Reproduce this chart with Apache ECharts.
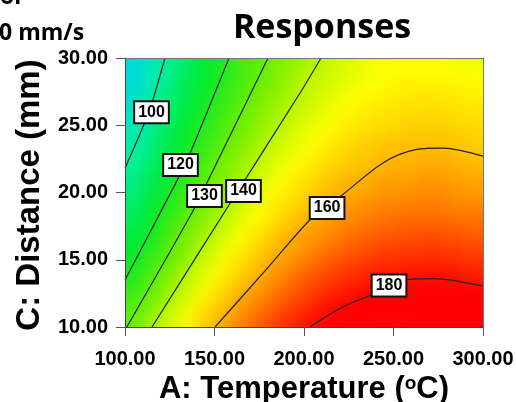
<!DOCTYPE html>
<html>
<head>
<meta charset="utf-8">
<script src="https://cdn.jsdelivr.net/npm/echarts@6/dist/echarts.min.js"></script>
<style>
  html, body { margin: 0; padding: 0; background: #fff; }
  #chart { width: 516px; height: 402px; }
</style>
</head>
<body>
<div id="chart"></div>
<script>
// cell centres of the colour field (temperature, distance)
const tempCenters = [105, 115, 125, 135, 145, 155, 165, 175, 185, 195, 205, 215, 225, 235, 245, 255, 265, 275, 285, 295];
const distCenters = [10.5, 11.5, 12.5, 13.5, 14.5, 15.5, 16.5, 17.5, 18.5, 19.5, 20.5, 21.5, 22.5, 23.5, 24.5, 25.5, 26.5, 27.5, 28.5, 29.5];

// response, one row per distance (bottom row first)
const response = [
  [130, 137, 143, 149, 155, 160, 165, 169, 173, 176, 179, 182, 184, 185, 187, 188, 188, 188, 187, 186],
  [127, 134, 140, 146, 152, 157, 162, 166, 170, 173, 176, 179, 181, 183, 184, 185, 185, 185, 184, 183],
  [124, 131, 137, 143, 149, 154, 159, 163, 167, 170, 173, 176, 178, 180, 181, 182, 182, 182, 182, 181],
  [121, 128, 135, 141, 146, 151, 156, 160, 164, 168, 171, 173, 175, 177, 178, 179, 179, 179, 179, 178],
  [119, 126, 132, 138, 144, 149, 153, 158, 162, 165, 168, 171, 173, 174, 176, 176, 177, 177, 176, 175],
  [116, 123, 129, 135, 141, 146, 151, 155, 159, 162, 165, 168, 170, 172, 173, 174, 174, 174, 174, 173],
  [114, 120, 127, 133, 139, 144, 148, 153, 157, 160, 163, 165, 168, 169, 171, 171, 172, 172, 171, 170],
  [111, 118, 125, 131, 136, 141, 146, 150, 154, 158, 161, 163, 165, 167, 168, 169, 169, 169, 169, 168],
  [109, 116, 122, 128, 134, 139, 144, 148, 152, 155, 158, 161, 163, 165, 166, 167, 167, 167, 166, 166],
  [107, 114, 120, 126, 132, 137, 142, 146, 150, 153, 156, 159, 161, 162, 164, 164, 165, 165, 164, 163],
  [105, 112, 118, 124, 130, 135, 139, 144, 148, 151, 154, 157, 159, 160, 162, 162, 163, 163, 162, 161],
  [103, 110, 116, 122, 128, 133, 137, 142, 146, 149, 152, 155, 157, 158, 160, 160, 161, 161, 160, 159],
  [101, 108, 114, 120, 126, 131, 136, 140, 144, 147, 150, 153, 155, 156, 158, 158, 159, 159, 158, 157],
  [99, 106, 112, 118, 124, 129, 134, 138, 142, 145, 148, 151, 153, 155, 156, 157, 157, 157, 156, 155],
  [97, 104, 111, 117, 122, 127, 132, 136, 140, 144, 147, 149, 151, 153, 154, 155, 155, 155, 155, 154],
  [96, 102, 109, 115, 120, 126, 130, 135, 138, 142, 145, 147, 150, 151, 152, 153, 154, 154, 153, 152],
  [94, 101, 107, 113, 119, 124, 129, 133, 137, 140, 143, 146, 148, 150, 151, 152, 152, 152, 152, 151],
  [92, 99, 106, 112, 117, 123, 127, 132, 135, 139, 142, 144, 147, 148, 149, 150, 151, 151, 150, 149],
  [91, 98, 104, 111, 116, 121, 126, 130, 134, 138, 141, 143, 145, 147, 148, 149, 149, 149, 149, 148],
  [90, 97, 103, 109, 115, 120, 125, 129, 133, 136, 139, 142, 144, 146, 147, 148, 148, 148, 147, 146],
];

// contour lines, [temperature, distance] points
const contour100 = [[122.3, 30], [115.6, 26.9], [110.1, 24.9], [100, 21.8]];
const contour120 = [[158.1, 30], [136.3, 22.9], [129.1, 20.9], [100, 13.5]];
const contour130 = [[179.9, 30], [146.4, 20.9], [137.4, 18.5], [101, 10]];
const contour140 = [[209.5, 30], [197.8, 27.4], [158.7, 19.2], [115.1, 10]];
const contour160 = [[150.3, 10], [177.1, 14.0], [205.0, 18.2], [221.2, 19.8], [244.1, 22.2], [263.1, 23.2], [277.7, 23.3], [300, 22.7]];
const contour180 = [[203.4, 10], [221.8, 11.5], [238, 12.4], [256.4, 13.5], [272.1, 13.6], [300, 13.05]];

const labelText = ['100', '120', '130', '140', '160', '180'];
const labelTemp = [114.8, 131.0, 144.4, 166.2, 212.9, 247.5];
const labelDist = [25.96, 22.04, 19.74, 20.11, 18.85, 13.09];

const xTicks = [100, 150, 200, 250, 300];
const yTicks = [10, 15, 20, 25, 30];

// colour field: the cells plus a ring of repeated edge cells, so the softening blur does not fade at the frame
const ring = 2;
const nx = tempCenters.length;
const ny = distCenters.length;
const clampI = (k, n) => Math.min(n - 1, Math.max(0, k));
const cells = [];
for (let j = -ring; j < ny + ring; j += 1) {
  for (let i = -ring; i < nx + ring; i += 1) {
    cells.push([i + ring, j + ring, response[clampI(j, ny)][clampI(i, nx)]]);
  }
}
const padX = Array.from({ length: nx + 2 * ring }, (_, k) => String(k));
const padY = Array.from({ length: ny + 2 * ring }, (_, k) => String(k));

const fontAx = '"Liberation Sans", Arial, sans-serif';
const W = 516;
const H = 402;
const gridPos = { left: 125, top: 58, width: 358, height: 269, outerBoundsMode: 'none', containLabel: false };
const cw = gridPos.width / nx;
const ch = gridPos.height / ny;
const gridPad = {
  left: gridPos.left - ring * cw,
  top: gridPos.top - ring * ch,
  width: gridPos.width + 2 * ring * cw,
  height: gridPos.height + 2 * ring * ch,
  outerBoundsMode: 'none',
  containLabel: false,
};

const contourSeries = [contour100, contour120, contour130, contour140, contour160, contour180].map((d) => ({
  type: 'line',
  xAxisIndex: 0,
  yAxisIndex: 0,
  data: d,
  smooth: 0.3,
  symbol: 'none',
  silent: true,
  zlevel: 2,
  z: 3,
  lineStyle: { color: '#222', width: 1.2 },
}));

const el = document.getElementById('chart');
const myechart = echarts.init(el);
const option = {
  animation: false,
  graphic: [
    { type: 'text', zlevel: 2, x: 322, y: 28, style: { text: 'Responses', font: 'bold 34px "Open Sans"', fill: '#000', align: 'center', verticalAlign: 'middle' } },
    { type: 'text', zlevel: 2, x: -1, y: 33, style: { text: '0 mm/s', font: 'bold 23px "Open Sans"', fill: '#000', align: 'left', verticalAlign: 'middle' } },
    { type: 'text', zlevel: 2, x: 0, y: -3, style: { text: 'or', font: 'bold 23px "Open Sans"', fill: '#000', align: 'left', verticalAlign: 'middle' } },
    {
      type: 'text',
      zlevel: 2,
      x: 30,
      y: 195,
      rotation: Math.PI / 2,
      style: { text: 'C: Distance (mm)', font: `bold 33px ${fontAx}`, fill: '#000', align: 'center', verticalAlign: 'middle' },
    },
  ],
  grid: [
    Object.assign({}, gridPos),
    Object.assign({}, gridPos),
    Object.assign({}, gridPad),
  ],
  visualMap: {
    type: 'continuous',
    show: false,
    seriesIndex: 0,
    dimension: 2,
    min: 84,
    max: 180,
    inRange: {
      color: ['#00c8ff', '#00f0a8', '#00ea2a', '#72ee00', '#ffff00', '#ff8c00', '#ff0000'],
    },
  },
  xAxis: [
    {
      type: 'value',
      gridIndex: 0,
      zlevel: 2,
      min: xTicks[0],
      max: xTicks[xTicks.length - 1],
      interval: 50,
      name: 'A: Temperature ({sup|o}C)',
      nameLocation: 'middle',
      nameGap: 44,
      nameTextStyle: {
        fontFamily: fontAx,
        fontWeight: 'bold',
        fontSize: 31,
        color: '#000',
        rich: { sup: { fontFamily: fontAx, fontWeight: 'bold', fontSize: 19, verticalAlign: 'top', color: '#000' } },
      },
      axisLine: { show: true, lineStyle: { color: '#444', width: 1 } },
      axisTick: { show: true, length: 9, lineStyle: { color: '#555' } },
      axisLabel: { formatter: (v) => v.toFixed(2), margin: 22, fontFamily: fontAx, fontWeight: 'bold', fontSize: 20, color: '#000' },
      splitLine: { show: false },
      z: 10,
    },
    {
      type: 'category',
      gridIndex: 1,
      zlevel: 2,
      data: tempCenters,
      position: 'top',
      axisLine: { show: true, lineStyle: { color: '#777' } },
      axisTick: { show: false },
      axisLabel: { show: false },
      splitLine: { show: false },
      z: 10,
    },
    { type: 'category', gridIndex: 2, data: padX, show: false },
  ],
  yAxis: [
    {
      type: 'value',
      gridIndex: 0,
      zlevel: 2,
      min: yTicks[0],
      max: yTicks[yTicks.length - 1],
      interval: 5,
      axisLine: { show: true, lineStyle: { color: '#444', width: 1 } },
      axisTick: { show: true, length: 9, lineStyle: { color: '#555' } },
      axisLabel: { formatter: (v) => v.toFixed(2), margin: 17, fontFamily: fontAx, fontWeight: 'bold', fontSize: 20, color: '#000' },
      splitLine: { show: false },
      z: 10,
    },
    {
      type: 'category',
      gridIndex: 1,
      zlevel: 2,
      data: distCenters,
      position: 'right',
      axisLine: { show: true, lineStyle: { color: '#777' } },
      axisTick: { show: false },
      axisLabel: { show: false },
      splitLine: { show: false },
      z: 10,
    },
    { type: 'category', gridIndex: 2, data: padY, show: false },
  ],
  series: [
    {
      type: 'heatmap',
      xAxisIndex: 2,
      yAxisIndex: 2,
      data: cells,
      silent: true,
      zlevel: 1,
      itemStyle: { borderWidth: 0 },
    },
  ].concat(contourSeries, [
    {
      type: 'scatter',
      xAxisIndex: 0,
      yAxisIndex: 0,
      symbolSize: 2,
      silent: true,
      zlevel: 2,
      z: 6,
      itemStyle: { color: 'rgba(0,0,0,0)', opacity: 1 },
      data: labelText.map((t, i) => ({ name: t, value: [labelTemp[i], labelDist[i]] })),
      label: {
        show: true,
        position: 'inside',
        formatter: (p) => p.name,
        fontFamily: fontAx,
        fontWeight: 'bold',
        fontSize: 16,
        lineHeight: 17,
        color: '#000',
        opacity: 1,
        backgroundColor: '#fff',
        borderColor: '#111',
        borderWidth: 2,
        padding: [2, 3, 1, 3],
      },
    },
  ]),
};
myechart.setOption(option);

// soften the blocky field and keep it inside the frame
function softenField() {
  const cv = el.querySelector('canvas[data-zr-dom-id="zr_1"]');
  if (cv) {
    cv.style.filter = 'blur(8px)';
    const r = W - gridPos.left - gridPos.width;
    const b = H - gridPos.top - gridPos.height;
    cv.style.clipPath = `inset(${gridPos.top}px ${r}px ${b}px ${gridPos.left}px)`;
  }
}
softenField();
myechart.on('finished', softenField);
</script>
</body>
</html>
